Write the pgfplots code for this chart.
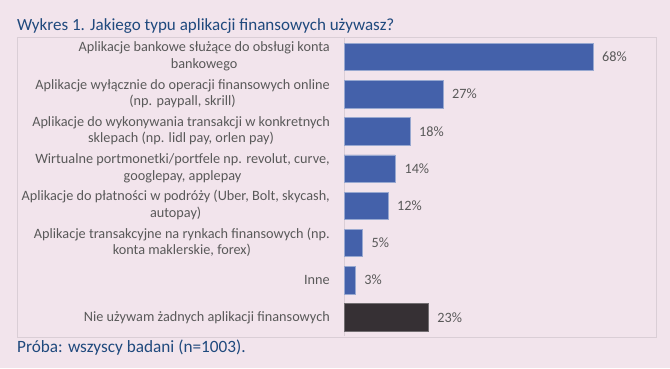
\documentclass[border=0pt]{standalone}
\usepackage{fontspec}
\setmainfont{Carlito}
\usepackage{pgfplots}
\pgfplotsset{compat=1.18}
\definecolor{bg}{RGB}{242,228,236}
\definecolor{barblue}{RGB}{68,97,170}
\definecolor{bardark}{RGB}{54,48,52}
\definecolor{titleblue}{RGB}{31,73,125}
\definecolor{lblgray}{RGB}{89,89,89}
\definecolor{framegray}{RGB}{218,206,214}
\newcommand{\two}[2]{\begin{tabular}{@{}c@{}}#1\\#2\end{tabular}}
\begin{document}
\begin{tikzpicture}[x=1bp,y=1bp]
\fill[bg] (0,0) rectangle (670,368);
\draw[framegray, line width=1bp] (17,31) rectangle (656,331);
\node[anchor=base west, text=titleblue, font=\fontsize{17.1}{20}\selectfont, inner sep=0] at (17,337.3) {Wykres 1. Jakiego typu aplikacji finansowych używasz?};
\node[anchor=base west, text=titleblue, font=\fontsize{17.3}{20}\selectfont, inner sep=0] at (17,16) {Próba: wszyscy badani (n=1003).};
\begin{axis}[
  at={(344bp,32bp)}, anchor=south west,
  scale only axis, width=310bp, height=297.7bp,
  xbar, bar width=27.4bp,
  xmin=0, xmax=84.7, ymin=-0.5, ymax=7.5, y dir=reverse,
  axis x line=none,
  axis y line*=left,
  y axis line style={framegray, line width=1bp, -},
  ytick={0,...,7},
  yticklabels={
    {\two{Aplikacje bankowe służące do obsługi konta}{bankowego}},
    {\two{Aplikacje wyłącznie do operacji finansowych online}{(np. paypall, skrill)}},
    {\two{Aplikacje do wykonywania transakcji w konkretnych}{sklepach (np. lidl pay, orlen pay)}},
    {\two{Wirtualne portmonetki/portfele np. revolut, curve,}{googlepay, applepay}},
    {\two{Aplikacje do płatności w podróży (Uber, Bolt, skycash,}{autopay)}},
    {\two{Aplikacje transakcyjne na rynkach finansowych (np.}{konta maklerskie, forex)}},
    {Inne},
    {Nie używam żadnych aplikacji finansowych}},
  major tick length=0pt,
  ytick style={draw=none},
  yticklabel style={anchor=east, text=lblgray, inner sep=0pt, xshift=-14bp,
    font=\fontsize{14.3}{16.5}\selectfont},
  /pgf/number format/assume math mode=true,
  nodes near coords={\pgfmathprintnumber{\pgfplotspointmeta}\%},
  nodes near coords style={anchor=west, text=lblgray, inner sep=0pt, xshift=9bp,
    font=\fontsize{14.3}{16}\selectfont},
  clip=false,
]
\addplot[bar shift=0pt, fill=barblue, draw=barblue!55!white, line width=0.6bp]
  coordinates {(68,0) (27,1) (18,2) (14,3) (12,4) (5,5) (3,6)};
\addplot[bar shift=0pt, fill=bardark, draw=bardark!70!white, line width=0.6bp]
  coordinates {(23,7)};
\end{axis}
\end{tikzpicture}
\end{document}
